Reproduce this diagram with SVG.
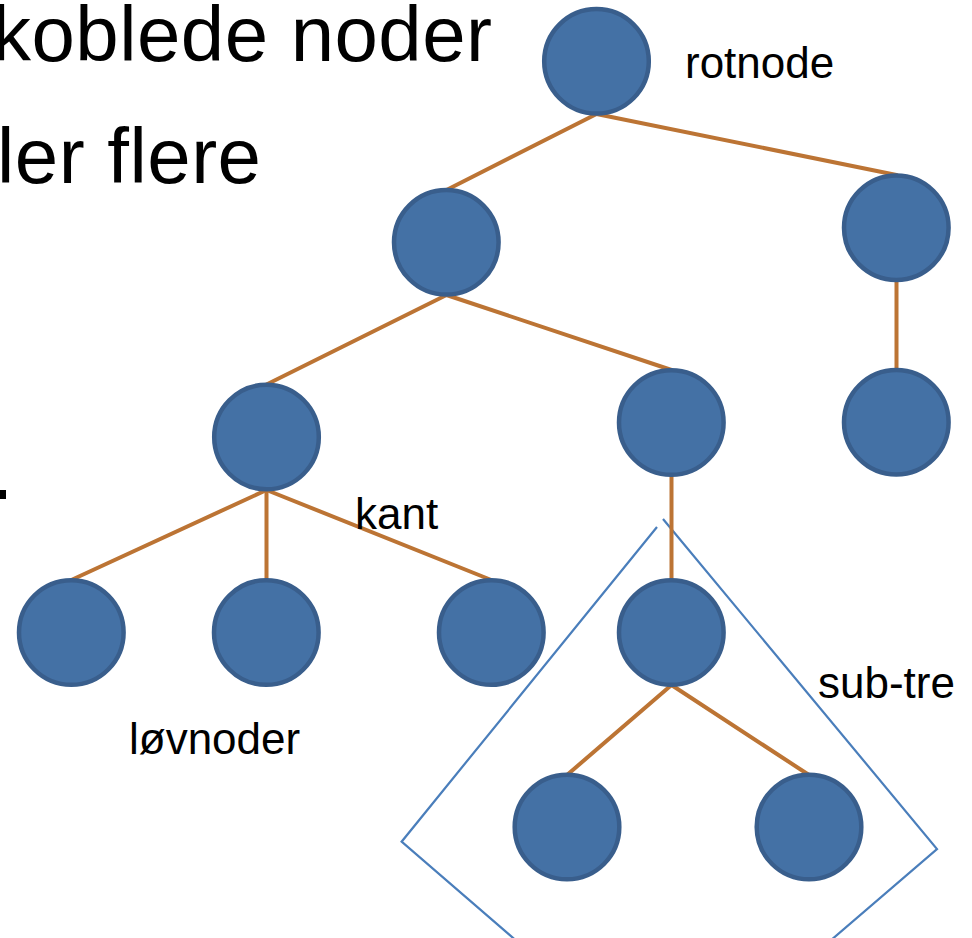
<svg xmlns="http://www.w3.org/2000/svg" width="972" height="938" viewBox="0 0 972 938">
  <style>
    .title { font-family: "Liberation Sans", Arial, sans-serif; font-size: 78px; fill: #000; }
    .label { font-family: "Liberation Sans", Arial, sans-serif; font-size: 44px; fill: #000; }
    .node circle { fill: #4471A5; stroke: #395E8C; stroke-width: 4.5; }
    .edge { stroke: #BC7434; stroke-width: 4; stroke-linecap: round; fill: none; }
    .subtree { stroke: #4A7EBB; stroke-width: 2.2; fill: none; stroke-linejoin: miter; }
  </style>
  <rect width="972" height="938" fill="#ffffff"/>

  <!-- heading text, running off the left edge -->
  <text class="title" x="-8" y="61" textLength="500" lengthAdjust="spacing">koblede noder</text>
  <text class="title" x="-3" y="183" textLength="264" lengthAdjust="spacing">ler flere</text>
  <rect x="0" y="490" width="6" height="9" fill="#000"/>

  <!-- sub-tree outline -->
  <polyline class="subtree" points="657,527 401.6,841.7 673,1076 937,849 663,519"/>

  <!-- connectors -->
  <g id="edges">
    <line class="edge" x1="596.5" y1="114" x2="446.5" y2="190"/>
    <line class="edge" x1="596.5" y1="114" x2="896.5" y2="175"/>
    <line class="edge" x1="446.5" y1="295" x2="266.5" y2="384.5"/>
    <line class="edge" x1="446.5" y1="295" x2="671.5" y2="370"/>
    <line class="edge" x1="896.5" y1="280" x2="896.5" y2="370"/>
    <line class="edge" x1="266.5" y1="490" x2="71.3" y2="580"/>
    <line class="edge" x1="266.5" y1="490" x2="266.5" y2="580"/>
    <line class="edge" x1="266.5" y1="490" x2="491.3" y2="580"/>
    <line class="edge" x1="671.5" y1="475" x2="671.5" y2="580"/>
    <line class="edge" x1="671.5" y1="685" x2="567" y2="775"/>
    <line class="edge" x1="671.5" y1="685" x2="809" y2="775"/>
  </g>

  <!-- nodes -->
  <g id="root" class="node"><circle cx="596.5" cy="61.3" r="52.3"/></g>
  <g id="n-left" class="node"><circle cx="446.3" cy="242.3" r="52.3"/></g>
  <g id="n-right" class="node"><circle cx="896.3" cy="227.7" r="52.3"/></g>
  <g id="n-left-left" class="node"><circle cx="266.5" cy="437" r="52.3"/></g>
  <g id="n-left-right" class="node"><circle cx="671.3" cy="422.5" r="52.3"/></g>
  <g id="n-right-child" class="node"><circle cx="896.3" cy="422.2" r="52.3"/></g>
  <g id="leaf-1" class="node"><circle cx="71.3" cy="632.5" r="52.3"/></g>
  <g id="leaf-2" class="node"><circle cx="266.3" cy="632.5" r="52.3"/></g>
  <g id="leaf-3" class="node"><circle cx="491.3" cy="632.5" r="52.3"/></g>
  <g id="sub-root" class="node"><circle cx="671.3" cy="632.5" r="52.3"/></g>
  <g id="sub-leaf-1" class="node"><circle cx="567" cy="827" r="52.3"/></g>
  <g id="sub-leaf-2" class="node"><circle cx="809" cy="827" r="52.3"/></g>

  <!-- labels -->
  <text class="label" x="685" y="78">rotnode</text>
  <text class="label" x="355" y="529">kant</text>
  <text class="label" x="129" y="754">løvnoder</text>
  <text class="label" x="818" y="698">sub-tre</text>
</svg>
